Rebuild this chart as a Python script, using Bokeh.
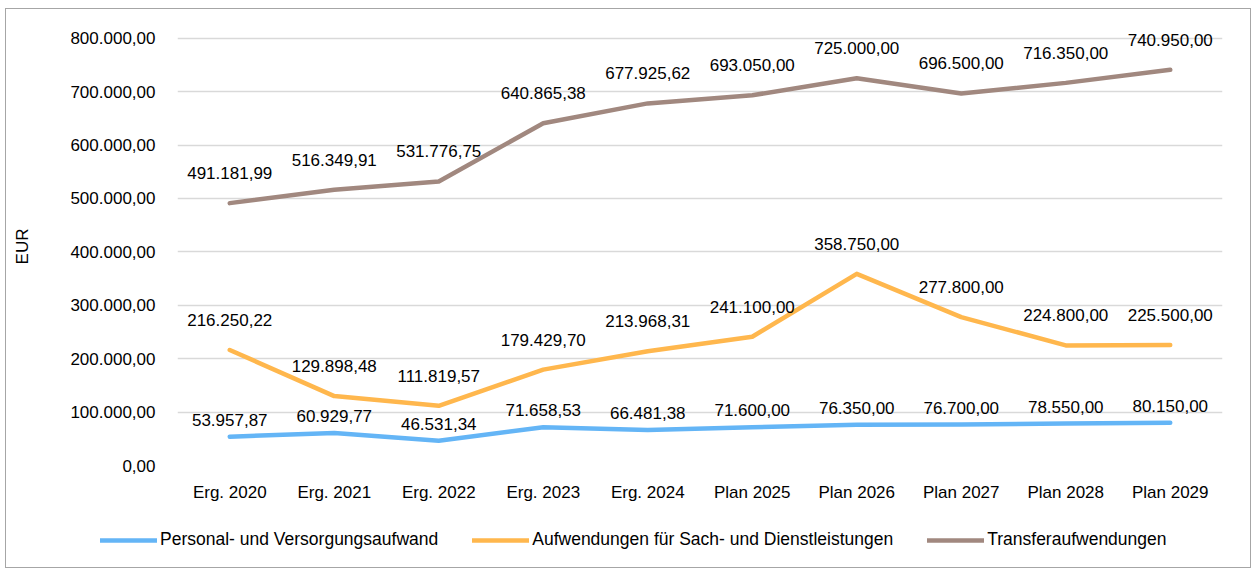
from bokeh.plotting import figure
from bokeh.models import ColumnDataSource, FixedTicker, Legend, LegendItem
from bokeh.layouts import column
from bokeh.core.properties import value
from bokeh.embed import file_html
from bokeh.resources import INLINE

categories = ["Erg. 2020", "Erg. 2021", "Erg. 2022", "Erg. 2023", "Erg. 2024",
              "Plan 2025", "Plan 2026", "Plan 2027", "Plan 2028", "Plan 2029"]
personal = [53957.87, 60929.77, 46531.34, 71658.53, 66481.38,
            71600.00, 76350.00, 76700.00, 78550.00, 80150.00]
sach = [216250.22, 129898.48, 111819.57, 179429.70, 213968.31,
        241100.00, 358750.00, 277800.00, 224800.00, 225500.00]
transfer = [491181.99, 516349.91, 531776.75, 640865.38, 677925.62,
            693050.00, 725000.00, 696500.00, 716350.00, 740950.00]
series_names = ["Personal- und Versorgungsaufwand",
                "Aufwendungen für Sach- und Dienstleistungen",
                "Transferaufwendungen"]
y_ticks = [0, 100000, 200000, 300000, 400000, 500000, 600000, 700000, 800000]


def de(v):
    s = f"{v:,.2f}"
    return s.replace(",", "X").replace(".", ",").replace("X", ".")


FONT = "Liberation Sans"
FS = "17px"
colors = ["#64B5F6", "#FFB74D", "#A1887F"]
offsets = [-17, -30, -30]

p = figure(x_range=categories, y_range=(0, 820000), width=1244, height=506,
           output_backend="svg", toolbar_location=None,
           min_border_left=171, min_border_right=28, min_border_top=18,
           min_border_bottom=50)
p.outline_line_color = None
p.background_fill_color = "white"
p.border_fill_color = "white"

p.xgrid.grid_line_color = None
p.ygrid.grid_line_color = "#d9d9d9"
p.ygrid.grid_line_width = 1.5

p.yaxis.ticker = FixedTicker(ticks=y_ticks)
p.yaxis.major_label_overrides = {t: de(t) for t in y_ticks}
p.yaxis.axis_line_color = None
p.yaxis.major_tick_line_color = None
p.yaxis.minor_tick_line_color = None
p.yaxis.major_label_standoff = 16
p.yaxis.axis_label = "EUR"
p.yaxis.axis_label_text_font = FONT
p.yaxis.axis_label_text_font_style = "normal"
p.yaxis.axis_label_text_font_size = FS
p.yaxis.axis_label_standoff = 35

p.xaxis.axis_line_color = None
p.xaxis.major_tick_line_color = None
p.xaxis.major_label_standoff = 11

for ax in (p.xaxis[0], p.yaxis[0]):
    ax.major_label_text_font = FONT
    ax.major_label_text_font_size = FS
    ax.major_label_text_color = "#000000"
    ax.axis_label_text_color = "#000000"

# legend strip below the chart (its own frame, not aligned with the chart)
p2 = figure(width=1244, height=52, x_range=(0, 1), y_range=(0, 1),
            output_backend="svg", toolbar_location=None,
            x_axis_location=None, y_axis_location=None,
            min_border_left=0, min_border_right=0, min_border_top=0,
            min_border_bottom=0)
p2.frame_align = False
p2.outline_line_color = None
p2.xgrid.grid_line_color = None
p2.ygrid.grid_line_color = None

items = []
for name, vals, col, off in zip(series_names, [personal, sach, transfer], colors, offsets):
    src = ColumnDataSource(dict(x=categories, y=vals, lab=[de(v) for v in vals]))
    p.line("x", "y", source=src, line_color=col, line_width=4.5,
           line_cap="round", line_join="round")
    p.text("x", "y", text="lab", source=src, text_align="center",
           text_baseline="middle", y_offset=off, text_font=value(FONT),
           text_font_size=FS, text_color="#000000")
    # legend-only proxy, outside the visible range of the strip
    r2 = p2.line(x=[-5, -4], y=[-5, -4], line_color=col, line_width=4.5,
                 line_cap="round")
    items.append(LegendItem(label=name, renderers=[r2]))

legend = Legend(items=items, orientation="horizontal", location=(94, 17),
                glyph_width=57, glyph_height=20, label_height=20,
                label_standoff=3, spacing=34, padding=0, margin=0,
                label_text_font=FONT, label_text_font_size="17.5px",
                label_text_color="#000000", border_line_color=None,
                background_fill_alpha=0)
p2.add_layout(legend, "center")

layout = column(p, p2, spacing=0)
layout.styles = {"border": "1px solid #a6a6a6", "margin-left": "5px", "margin-top": "8px"}

open("out.html", "w").write(file_html(layout, INLINE))
